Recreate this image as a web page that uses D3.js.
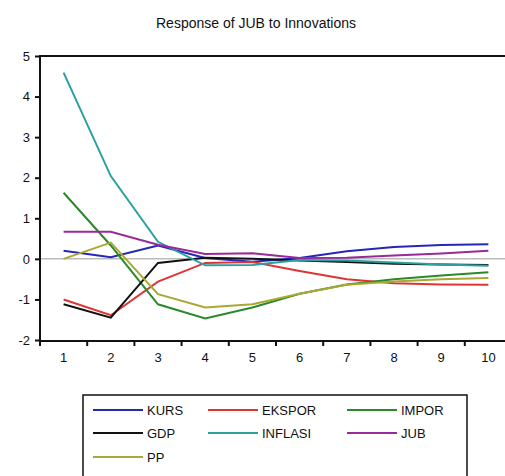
<!DOCTYPE html>
<html>
<head>
<meta charset="utf-8">
<script src="https://cdn.jsdelivr.net/npm/d3@7"></script>
<style>
  body { margin: 0; background: #fff; }
  svg { display: block; font-family: "Liberation Sans", Arial, sans-serif; }
</style>
</head>
<body>
<div id="chart"></div>
<script>
// periods on the x axis
var periods = [1, 2, 3, 4, 5, 6, 7, 8, 9, 10];
var yTicks = [-2, -1, 0, 1, 2, 3, 4, 5];

// responses
var kurs    = [0.20, 0.04, 0.33, 0.02, -0.07, 0.02, 0.19, 0.29, 0.34, 0.36];
var ekspor  = [-1.00, -1.39, -0.56, -0.10, -0.08, -0.30, -0.50, -0.60, -0.63, -0.64];
var impor   = [1.63, 0.33, -1.12, -1.47, -1.20, -0.86, -0.63, -0.50, -0.41, -0.33];
var gdp     = [-1.12, -1.45, -0.10, 0.03, 0.00, -0.04, -0.08, -0.12, -0.14, -0.15];
var inflasi = [4.59, 2.04, 0.42, -0.16, -0.15, -0.03, -0.04, -0.09, -0.14, -0.17];
var jub     = [0.67, 0.67, 0.35, 0.12, 0.14, 0.02, 0.03, 0.08, 0.13, 0.20];
var pp      = [0.00, 0.40, -0.87, -1.20, -1.12, -0.86, -0.64, -0.56, -0.50, -0.47];

var series = [
  { name: "KURS",    values: kurs,    color: "#2626b8" },
  { name: "EKSPOR",  values: ekspor,  color: "#e03434" },
  { name: "IMPOR",   values: impor,   color: "#2a8a2a" },
  { name: "GDP",     values: gdp,     color: "#111111" },
  { name: "INFLASI", values: inflasi, color: "#2aa0a0" },
  { name: "JUB",     values: jub,     color: "#9a2a9a" },
  { name: "PP",      values: pp,      color: "#a8a832" }
];

var width = 505, height = 476;

var svg = d3.select("#chart").append("svg")
  .attr("width", width)
  .attr("height", height);

// plot area (right side runs off the picture, like the original)
var plotLeft = 40, plotTop = 56, plotBottom = 341, step = 47.2;
var plotRight = plotLeft + step * periods.length;

var x = d3.scaleBand()
  .domain(periods)
  .range([plotLeft, plotRight])
  .paddingInner(0).paddingOuter(0);

var y = d3.scaleLinear()
  .domain([-2, 5])
  .range([340, 56]);

// title
svg.append("text")
  .attr("x", 256)
  .attr("y", 28)
  .attr("text-anchor", "middle")
  .style("font-size", "14px")
  .attr("fill", "#111")
  .text("Response of JUB to Innovations");

// zero line
svg.append("line")
  .attr("x1", plotLeft).attr("x2", plotRight)
  .attr("y1", y(0)).attr("y2", y(0))
  .attr("stroke", "#999")
  .attr("stroke-width", 1);

// lines
var line = d3.line()
  .x(function(d, i) { return x(periods[i]) + x.bandwidth() / 2; })
  .y(function(d) { return y(d); });

svg.append("g")
  .selectAll("path")
  .data(series)
  .enter().append("path")
  .attr("d", function(d) { return line(d.values); })
  .attr("fill", "none")
  .attr("stroke", function(d) { return d.color; })
  .attr("stroke-width", 2);

// frame top
svg.append("line")
  .attr("x1", plotLeft).attr("x2", plotRight)
  .attr("y1", plotTop).attr("y2", plotTop)
  .attr("stroke", "#111").attr("stroke-width", 2);

// y axis
var yAxis = d3.axisLeft(y)
  .tickValues(yTicks)
  .tickFormat(function(d) { return String(d); })
  .tickSize(5)
  .tickPadding(5);

var gy = svg.append("g")
  .attr("transform", "translate(" + plotLeft + ",0)")
  .call(yAxis);
gy.select(".domain").attr("stroke", "#111").attr("stroke-width", 2)
  .attr("d", "M0," + (plotTop - 1) + "V" + (plotBottom + 1));
gy.selectAll(".tick line").attr("stroke", "#111").attr("stroke-width", 2);
gy.selectAll("text").style("font-size", "13px").attr("fill", "#111");

// x axis: labels centred in each band, ticks on band edges
var xAxis = d3.axisBottom(x)
  .tickSize(0)
  .tickPadding(12);

var gx = svg.append("g")
  .attr("transform", "translate(0," + plotBottom + ")")
  .call(xAxis);
gx.select(".domain").attr("stroke", "#111").attr("stroke-width", 2)
  .attr("d", "M" + (plotLeft - 1) + ",0H" + plotRight);
gx.selectAll("text").style("font-size", "13px").attr("fill", "#111");

gx.selectAll(".edge")
  .data(periods)
  .enter().append("line")
  .attr("class", "edge")
  .attr("x1", function(d) { return x(d); })
  .attr("x2", function(d) { return x(d); })
  .attr("y1", 0).attr("y2", 5)
  .attr("stroke", "#111").attr("stroke-width", 2);

// legend
var legend = svg.append("g");
legend.append("rect")
  .attr("x", 83).attr("y", 395)
  .attr("width", 384).attr("height", 90)
  .attr("fill", "#fff")
  .attr("stroke", "#111")
  .attr("stroke-width", 1.5);

var colX = [93, 208, 347];
var rowY = [410, 433, 457];

var items = legend.selectAll(".item")
  .data(series)
  .enter().append("g")
  .attr("class", "item")
  .attr("transform", function(d, i) {
    return "translate(" + colX[i % 3] + "," + rowY[Math.floor(i / 3)] + ")";
  });

items.append("line")
  .attr("x1", 0).attr("x2", 50)
  .attr("y1", 0).attr("y2", 0)
  .attr("stroke", function(d) { return d.color; })
  .attr("stroke-width", 2);

items.append("text")
  .attr("x", 54)
  .attr("y", 4.5)
  .style("font-size", "13px")
  .attr("fill", "#111")
  .text(function(d) { return d.name; });
</script>
</body>
</html>
